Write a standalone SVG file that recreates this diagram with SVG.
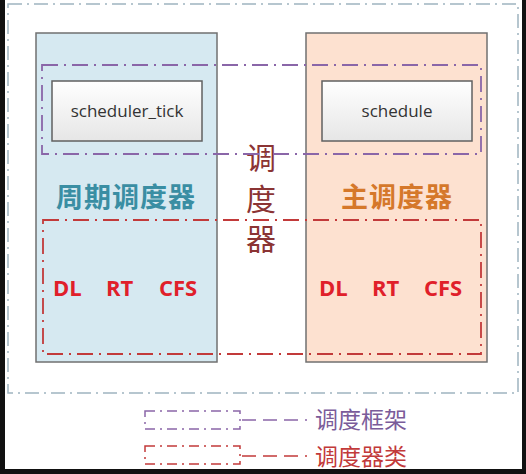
<svg xmlns="http://www.w3.org/2000/svg" width="526" height="474" viewBox="0 0 526 474">
<defs>
<linearGradient id="btn" x1="0" y1="0" x2="0" y2="1">
<stop offset="0" stop-color="#ffffff"/>
<stop offset="1" stop-color="#e6e6e6"/>
</linearGradient>
</defs>
<style>
.frame{fill:none;stroke:#9fb4c0;stroke-width:1.5;stroke-dasharray:14 5 2 5}
.col{stroke:#707070;stroke-width:1.5}
.fw{fill:none;stroke:#8a66a8;stroke-width:1.8;stroke-dasharray:16 6 2 6}
.cls{fill:none;stroke:#c23a3a;stroke-width:1.8;stroke-dasharray:16 6 2 6}
.fn{fill:url(#btn);stroke:#606060;stroke-width:1.5}
.fnt{font-family:"Open Sans","Liberation Sans",sans-serif;font-size:17px;fill:#333;text-anchor:middle}
.cn{font-family:"Noto Sans CJK SC",sans-serif;font-weight:bold;font-size:27px;letter-spacing:1px;text-anchor:middle}
.sc{font-family:"Open Sans","Liberation Sans",sans-serif;font-weight:bold;font-size:22px;fill:#e0202a}
.ctr{font-family:"Noto Sans CJK SC",sans-serif;font-size:30px;fill:#8b3434;text-anchor:middle}
.lg{font-family:"Noto Sans CJK SC",sans-serif;font-size:23px}
</style>
<rect x="0" y="0" width="526" height="474" fill="#ffffff"/>
<rect x="0" y="0" width="5" height="474" fill="#111"/>
<rect x="522" y="0" width="4" height="474" fill="#111"/>
<rect x="0" y="469" width="526" height="5" fill="#111"/>
<rect class="frame" x="8" y="4" width="510" height="389"/>
<g id="periodic">
<rect class="col" x="36" y="33" width="181" height="329" fill="#d6e9f1"/>
<text class="cn" x="126" y="207" fill="#3a8ea3">周期调度器</text>
</g>
<g id="main">
<rect class="col" x="306" y="33" width="181" height="329" fill="#fde1d0"/>
<text class="cn" x="397" y="207" fill="#d5782a">主调度器</text>
</g>
<g id="scheduler_tick">
<rect class="fn" x="52" y="81" width="150" height="60"/>
<text class="fnt" x="127" y="117">scheduler_tick</text>
</g>
<g id="schedule">
<rect class="fn" x="322" y="81" width="150" height="60"/>
<text class="fnt" x="397" y="117">schedule</text>
</g>
<g id="center-label">
<text class="ctr" x="261" y="169">调</text>
<text class="ctr" x="261" y="210">度</text>
<text class="ctr" x="261" y="250">器</text>
</g>
<g id="classes-left">
<text class="sc" x="53" y="296">DL</text>
<text class="sc" x="106" y="296">RT</text>
<text class="sc" x="159" y="296">CFS</text>
</g>
<g id="classes-right">
<text class="sc" x="319" y="296">DL</text>
<text class="sc" x="372" y="296">RT</text>
<text class="sc" x="424" y="296">CFS</text>
</g>
<g id="connectors">
<rect class="fw" x="42" y="65" width="439" height="89"/>
<rect class="cls" x="43" y="220" width="438" height="134"/>
</g>
<g id="legend">
<rect x="145" y="411" width="95" height="18" fill="none" stroke="#8a66a8" stroke-width="1.5" stroke-dasharray="10 5 2 5"/>
<line x1="242" y1="420" x2="307" y2="420" stroke="#8a66a8" stroke-width="1.5" stroke-dasharray="14 7"/>
<text class="lg" x="315" y="428" fill="#7a5c9a">调度框架</text>
<rect x="145" y="446" width="95" height="18" fill="none" stroke="#c23a3a" stroke-width="1.5" stroke-dasharray="10 5 2 5"/>
<line x1="242" y1="456" x2="307" y2="456" stroke="#c23a3a" stroke-width="1.5" stroke-dasharray="14 7"/>
<text class="lg" x="315" y="465" fill="#c23a3a">调度器类</text>
</g>
</svg>
